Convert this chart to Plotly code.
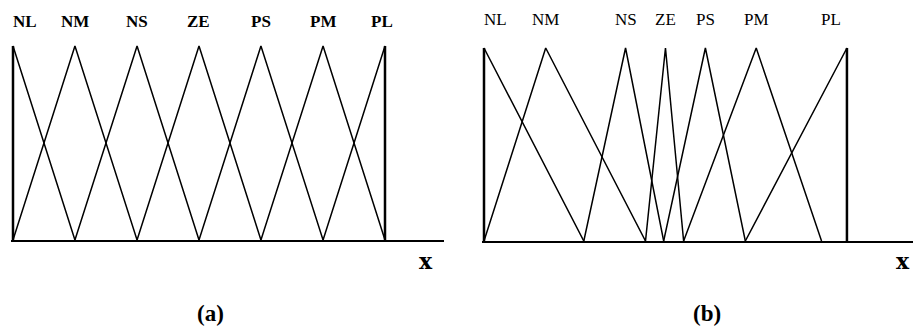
import plotly.graph_objects as go

# Linguistic terms shared by both partitions
terms = ["NL", "NM", "NS", "ZE", "PS", "PM", "PL"]

# (a) uniform partition of the universe [-1, 1]: left foot, peak, right foot
a_left = [-1.0, -1.0, -0.667, -0.333, 0.0, 0.333, 0.667]
a_peak = [-1.0, -0.667, -0.333, 0.0, 0.333, 0.667, 1.0]
a_right = [-0.667, -0.333, 0.0, 0.333, 0.667, 1.0, 1.0]

# (b) non-uniform partition, finer around zero
b_left = [-1.0, -1.0, -0.45, -0.11, -0.01, 0.10, 0.44]
b_peak = [-1.0, -0.66, -0.22, 0.0, 0.22, 0.50, 1.0]
b_right = [-0.45, -0.11, -0.01, 0.10, 0.44, 0.86, 1.0]

universe = [-1.0, 1.0]
membership = [0.0, 1.0]

W, H = 913, 329


def x_domain(px_lo, px_hi, r0, r1):
    """Domain in paper units so that universe[0] -> px_lo and universe[1] -> px_hi."""
    k = (px_hi - px_lo) / (universe[1] - universe[0])
    left = px_lo + (r0 - universe[0]) * k
    right = px_lo + (r1 - universe[0]) * k
    return [left / W, min(right / W, 1.0)]


def y_domain(py_zero, py_one, top):
    k = py_zero - py_one
    bottom = H - py_zero
    upper = H - (py_zero - top * k)
    return [bottom / H, upper / H]


fig = go.Figure()

panels = [
    dict(xa="x", ya="y", left=a_left, peak=a_peak, right=a_right,
         px=(13, 385), py=(240, 46), xr=(-1.012, 1.317), bold=True,
         name="(a)", name_px=210, x_px=426),
    dict(xa="x2", ya="y2", left=b_left, peak=b_peak, right=b_right,
         px=(484, 847), py=(241, 48), xr=(-1.012, 1.364), bold=False,
         name="(b)", name_px=707, x_px=903),
]

line = dict(color="black", width=1.5)
edge = dict(color="black", width=2.5)

annotations = []
for p in panels:
    # triangular membership functions
    for t, l, c, r in zip(terms, p["left"], p["peak"], p["right"]):
        fig.add_trace(go.Scatter(x=[l, c, r], y=[membership[0], membership[1], membership[0]],
                                 mode="lines", line=line, xaxis=p["xa"], yaxis=p["ya"],
                                 hoverinfo="skip", showlegend=False))
    # vertical edges of the shoulder sets at both ends of the universe
    for u in universe:
        fig.add_trace(go.Scatter(x=[u, u], y=membership, mode="lines", line=edge,
                                 xaxis=p["xa"], yaxis=p["ya"],
                                 hoverinfo="skip", showlegend=False))

    # term names above the peaks
    label_font = dict(family="Liberation Serif", size=17, color="black")
    for i, (t, c) in enumerate(zip(terms, p["peak"])):
        xanchor, xshift = "center", 0
        if i == 0:
            xanchor, xshift = "left", -2
        elif i == len(terms) - 1:
            xanchor, xshift = ("center", -3) if p["bold"] else ("right", -4)
        text = f"<b>{t}</b>" if p["bold"] else t
        annotations.append(dict(x=c, y=1.0, xref=p["xa"], yref=p["ya"], text=text,
                                showarrow=False, xanchor=xanchor, xshift=xshift,
                                yanchor="middle", yshift=25 if p["bold"] else 29,
                                font=label_font))

    # axis name and panel caption
    annotations.append(dict(x=p["x_px"] / W, y=1 - 261 / H, xref="paper", yref="paper",
                            text="<b>x</b>", showarrow=False, xanchor="center", yanchor="middle",
                            font=dict(family="DejaVu Serif", size=22, color="black")))
    annotations.append(dict(x=p["name_px"] / W, y=1 - 313 / H, xref="paper", yref="paper",
                            text=f"<b>{p['name']}</b>", showarrow=False, xanchor="center",
                            yanchor="middle",
                            font=dict(family="Liberation Serif", size=23, color="black")))

axis_common = dict(showgrid=False, zeroline=False, showticklabels=False, ticks="")

layout = dict(
    width=W, height=H,
    margin=dict(l=0, r=0, t=0, b=0),
    paper_bgcolor="white", plot_bgcolor="white",
    annotations=annotations,
    showlegend=False,
)
for i, p in enumerate(panels):
    sfx = "" if i == 0 else "2"
    layout["xaxis" + sfx] = dict(axis_common, domain=x_domain(p["px"][0], p["px"][1], *p["xr"]),
                                 range=list(p["xr"]), showline=True, linecolor="black",
                                 linewidth=2, anchor="y" + sfx)
    layout["yaxis" + sfx] = dict(axis_common, domain=y_domain(p["py"][0], p["py"][1], 1.03),
                                 range=[0, 1.03], showline=False, anchor="x" + sfx)

fig.update_layout(**layout)
fig.write_html("out.html")
